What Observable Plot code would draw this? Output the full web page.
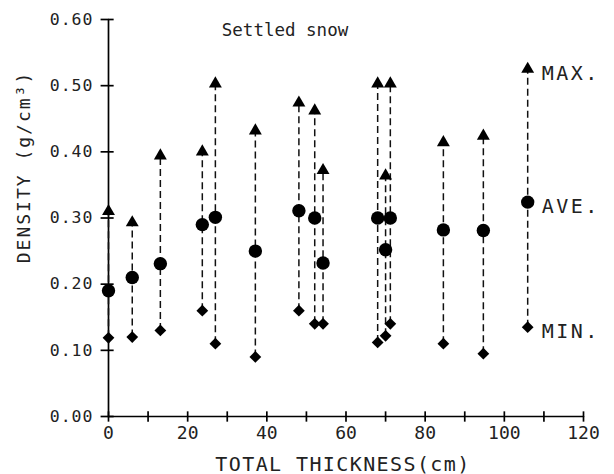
<!DOCTYPE html>
<html>
<head>
<meta charset="utf-8">
<script src="https://cdn.jsdelivr.net/npm/d3@7"></script>
<script src="https://cdn.jsdelivr.net/npm/@observablehq/plot@0.6"></script>
<style>
  html, body { margin: 0; padding: 0; background: #fff; }
  svg { display: block; }
  .ls-ytick text { letter-spacing: 1px; }
  .ls-legend text { letter-spacing: 2.5px; }
  .ls-xtitle text { letter-spacing: 1.4px; }
  .ls-ytitle text { letter-spacing: 2px; }
</style>
</head>
<body>
<div id="chart"></div>
<script>
// Data
const thickness = [0, 6, 13.1, 23.7, 27, 37.1, 48.1, 52.1, 54.2, 68, 70, 71.2, 84.6, 94.7, 105.9];
const maxDensity = [0.31, 0.293, 0.394, 0.40, 0.503, 0.432, 0.474, 0.462, 0.372, 0.503, 0.364, 0.503, 0.414, 0.424, 0.525];
const aveDensity = [0.19, 0.21, 0.231, 0.29, 0.301, 0.25, 0.311, 0.30, 0.232, 0.30, 0.252, 0.30, 0.282, 0.281, 0.324];
const minDensity = [0.119, 0.12, 0.13, 0.16, 0.11, 0.09, 0.16, 0.14, 0.14, 0.112, 0.122, 0.14, 0.11, 0.095, 0.135];

const yTicks = [0, 0.1, 0.2, 0.3, 0.4, 0.5, 0.6];
const xTicks = [0, 10, 20, 30, 40, 50, 60, 70, 80, 90, 100, 110, 120];
const xLabelTicks = [0, 20, 40, 60, 80, 100, 120];
const legendLabels = ["MAX.", "AVE.", "MIN."];
const titleText = "Settled snow";
const xTitle = "TOTAL THICKNESS(cm)";
const yTitle = "DENSITY (g/cm³)";

const rows = thickness.map((t, i) => ({t, max: maxDensity[i], ave: aveDensity[i], min: minDensity[i]}));
const last = rows[rows.length - 1];
const legendRows = [
  {t: last.t, v: last.max, label: legendLabels[0]},
  {t: last.t, v: last.ave, label: legendLabels[1]},
  {t: last.t, v: last.min, label: legendLabels[2]}
];

const mono = "'DejaVu Sans Mono', 'Liberation Mono', monospace";
const ink = "black";
const textInk = "#222";

const chart = Plot.plot({
  width: 614,
  height: 474,
  marginLeft: 108,
  marginRight: 31,
  marginTop: 19,
  marginBottom: 58,
  style: {fontFamily: mono, background: "#fff", color: "black"},
  x: {domain: [0, 120], axis: null},
  y: {domain: [0, 0.6], axis: null},
  marks: [
    // axis lines drawn as paths through the tick values
    Plot.line(yTicks, {x: () => 0, y: d => d, stroke: ink, strokeWidth: 1.7}),
    Plot.line(xTicks, {x: d => d, y: () => 0, stroke: ink, strokeWidth: 1.7}),
    // crossing ticks as links
    Plot.link(yTicks, {x1: () => -2.0, x2: () => 1.3, y1: d => d, y2: d => d, stroke: ink, strokeWidth: 1.7}),
    Plot.link(xTicks, {x1: d => d, x2: d => d, y1: () => -0.0078, y2: () => 0.0078, stroke: ink, strokeWidth: 1.7}),
    // tick labels
    Plot.text(yTicks, {x: () => 0, y: d => d, text: d => d3.format(".2f")(d), textAnchor: "end", dx: -15, fontSize: 16.5, fontFamily: mono, fill: textInk, className: "ls-ytick"}),
    Plot.text(xLabelTicks, {x: d => d, y: () => 0, text: d => String(d), dy: 17, fontSize: 18, fontFamily: mono, fill: textInk}),
    // dashed range lines
    Plot.ruleX(rows, {x: "t", y1: "min", y2: "max", stroke: "#111", strokeWidth: 1.5, strokeDasharray: "7,4"}),
    // markers
    Plot.dot(rows, {x: "t", y: "max", symbol: "triangle", r: 4.8, fill: "#000", stroke: "none"}),
    Plot.dot(rows, {x: "t", y: "ave", symbol: "circle", r: 6.7, fill: "#000", stroke: "none"}),
    Plot.dot(rows, {x: "t", y: "min", symbol: "diamond2", r: 5.3, fill: "#000", stroke: "none"}),
    // legend labels
    Plot.text(legendRows, {x: "t", y: "v", text: "label", textAnchor: "start", dx: 14, dy: 4, fontSize: 20, fontFamily: mono, fill: textInk, className: "ls-legend"}),
    // title
    Plot.text([titleText], {frameAnchor: "top", textAnchor: "middle", dx: -61, dy: 4, fontSize: 17.5, fontFamily: mono, fill: textInk}),
    // axis titles
    Plot.text([xTitle], {frameAnchor: "bottom", textAnchor: "middle", dx: -3, dy: 54, fontSize: 20, fontFamily: mono, fill: textInk, className: "ls-xtitle"}),
    Plot.text([yTitle], {frameAnchor: "left", textAnchor: "middle", dx: -84, dy: -51, rotate: -90, fontSize: 18, fontFamily: mono, fill: textInk, className: "ls-ytitle"})
  ]
});

document.getElementById("chart").appendChild(chart);
</script>
</body>
</html>
